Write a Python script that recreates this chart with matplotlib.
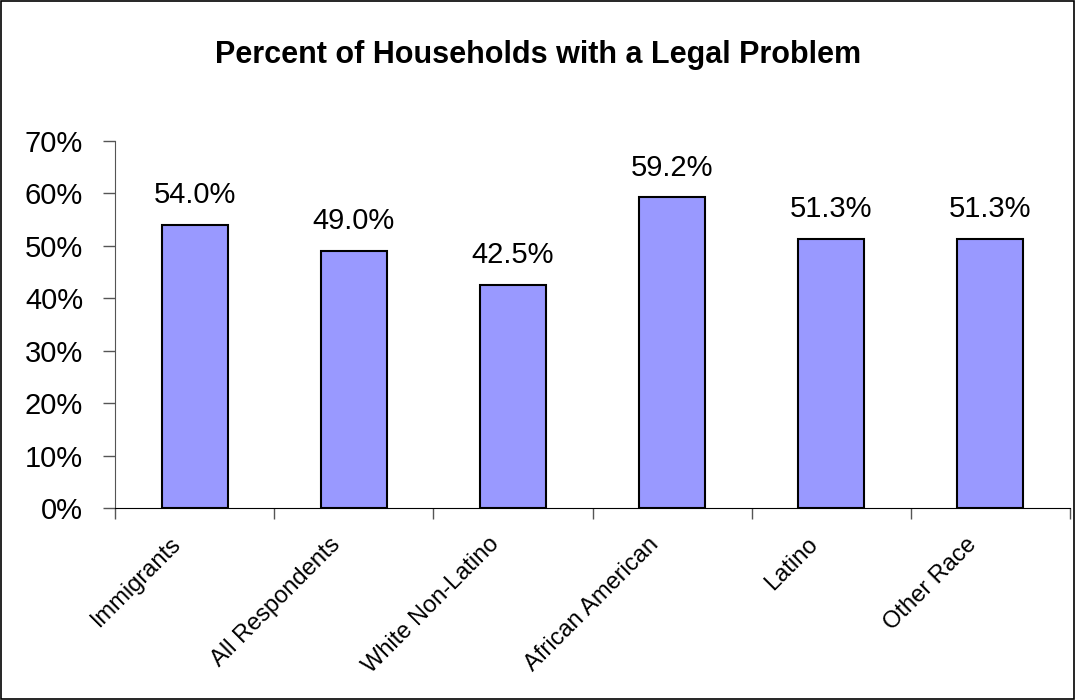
import matplotlib.pyplot as plt
import numpy as np
from matplotlib.patches import Rectangle
from matplotlib.transforms import ScaledTranslation

plt.rcParams['font.family'] = ['Liberation Sans', 'DejaVu Sans']

categories = ["Immigrants", "All Respondents", "White Non-Latino",
              "African American", "Latino", "Other Race"]
values = [54.0, 49.0, 42.5, 59.2, 51.3, 51.3]
yticks = [0, 10, 20, 30, 40, 50, 60, 70]

fig = plt.figure(figsize=(10.76, 7.0), dpi=100)
ax = fig.add_axes([0.107, 0.274, 0.8874, 0.525])

x = np.arange(len(categories))
ax.bar(x, values, width=0.415, color="#9999FF", edgecolor="black", lw=1.5, zorder=3)
for xi, v in zip(x, values):
    ax.text(xi, v + 3.0, "%.1f%%" % v, ha="center", va="bottom", fontsize=21)

ax.set_xlim(-0.5, len(categories) - 0.5)
ax.set_ylim(0, 70)
ax.set_yticks(yticks)
ax.set_yticklabels(["%d%%" % t for t in yticks], fontsize=21)
ax.tick_params(axis="y", direction="out", length=9, width=1, pad=14, color="#555555")

ax.set_xticks(x)
ax.set_xticklabels(categories, rotation=45, ha="right", rotation_mode="anchor", fontsize=17)
ax.tick_params(axis="x", which="major", length=0, pad=18)
shift = ScaledTranslation(-25 / 100, 0, fig.dpi_scale_trans)
for lab in ax.get_xticklabels():
    lab.set_transform(lab.get_transform() + shift)
ax.set_xticks(np.arange(len(categories) + 1) - 0.5, minor=True)
ax.tick_params(axis="x", which="minor", direction="out", length=8, width=1, color="#555555")

ax.spines["top"].set_visible(False)
ax.spines["right"].set_visible(False)
ax.spines["left"].set_color("#555555")

fig.text(0.5, 0.921, "Percent of Households with a Legal Problem", ha="center",
         va="center", fontsize=22, fontweight="bold")

fig.patches.append(Rectangle((0.001, 0.001), 0.997, 0.997, transform=fig.transFigure,
                             fill=False, edgecolor="black", lw=1.2))

plt.savefig("out.png", dpi=100)
